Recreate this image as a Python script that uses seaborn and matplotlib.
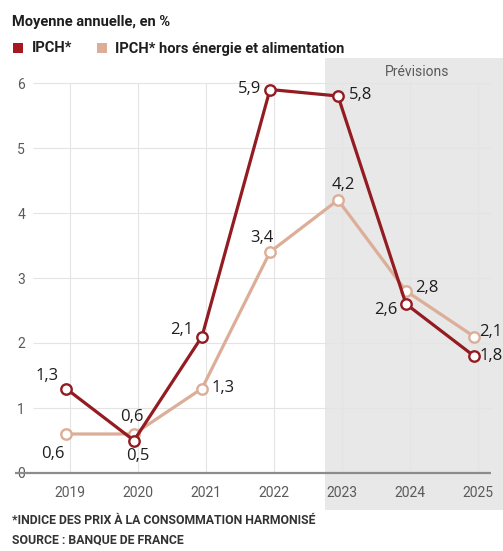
import matplotlib
matplotlib.use("Agg")
import matplotlib.pyplot as plt
from matplotlib.patches import Rectangle
import seaborn as sns
import pandas as pd

# Annual average inflation, in %
years = [2019, 2020, 2021, 2022, 2023, 2024, 2025]
ipch = [1.3, 0.5, 2.1, 5.9, 5.8, 2.6, 1.8]
ipch_core = [0.6, 0.6, 1.3, 3.4, 4.2, 2.8, 2.1]
series_names = ["IPCH*", "IPCH* hors énergie et alimentation"]
y_ticks = [0, 1, 2, 3, 4, 5, 6]

# label offsets (pixels) for each value label
ipch_offsets = [(-19, 13), (4, -15), (-20, 7), (-20, 1), (23, 1), (-20, -6), (17, 0)]
core_offsets = [(-13, -20), (-2, 17), (21, 0), (-8, 14), (5, 15), (21, 3), (17, 4)]

RED = "#931c22"
TAN = "#dcae98"
GREY_TXT = "#5a5a5a"

sns.set_theme(style="white")
plt.rcParams["font.family"] = ["Roboto", "DejaVu Sans"]

W, H = 503, 551
fig = plt.figure(figsize=(W / 100, H / 100), dpi=100)

# axes spans the full width; y=0 sits at pixel row 473, 65 px per unit
y0_px, top_px = 473, 58
ax = fig.add_axes([0, (H - y0_px) / H, 1, (y0_px - top_px) / H])
ax.patch.set_visible(False)

px_per_year = 68.0
x0_px = 66.0
xmin = years[0] - x0_px / px_per_year
xmax = years[0] + (W - x0_px) / px_per_year
ax.set_xlim(xmin, xmax)
ax.set_ylim(0, (y0_px - top_px) / 65.0)


def px2x(px):
    return years[0] + (px - x0_px) / px_per_year


# forecast shading (extends under the year labels)
fig.add_artist(Rectangle((325 / W, (H - 510) / H), (W - 325) / W, (510 - top_px) / H,
                         transform=fig.transFigure, facecolor="#e8e8e8",
                         edgecolor="none", zorder=-1))
fig.text(417 / W, 1 - 72 / H, "Prévisions", ha="center", va="center",
         fontsize=10, color=GREY_TXT)

# grid
ax.hlines(y_ticks[1:], px2x(33), px2x(491), color="#e4e4e4", lw=0.8, zorder=1)
ax.vlines([y + 0.06 for y in years], 0, 6, color="#e4e4e4", lw=0.8, zorder=1)
ax.hlines(0, px2x(15), px2x(491), color="#8c8c8c", lw=1.6, zorder=2, clip_on=False)

df = pd.DataFrame({
    "year": years * 2,
    "value": ipch + ipch_core,
    "series": [series_names[0]] * len(years) + [series_names[1]] * len(years),
})
sns.lineplot(data=df, x="year", y="value", hue="series",
             palette={series_names[0]: RED, series_names[1]: TAN},
             hue_order=[series_names[1], series_names[0]],
             lw=2.3, marker="o", markersize=7.5, markerfacecolor="white",
             markeredgewidth=1.7, legend=False, ax=ax, zorder=3)
# marker edges follow the line colour
for line in ax.get_lines():
    if len(line.get_xdata()) == len(years):
        line.set_markeredgecolor(line.get_color())
        line.set_clip_on(False)


def fmt(v):
    return f"{v:.1f}".replace(".", ",")


for vals, offs in ((ipch, ipch_offsets), (ipch_core, core_offsets)):
    for x, v, (dx, dy) in zip(years, vals, offs):
        ax.annotate(fmt(v), (x, v), xytext=(dx * 0.72, dy * 0.72),
                    textcoords="offset points", ha="center", va="center",
                    fontsize=12, color="#1e1e1e", family=["Open Sans", "DejaVu Sans"],
                    annotation_clip=False, zorder=5)

# ticks
ax.set_xticks([y + 0.06 for y in years])
ax.set_xticklabels([str(y) for y in years])
ax.set_yticks(y_ticks)
ax.set_yticklabels([str(t) for t in y_ticks])
ax.tick_params(axis="x", length=0, pad=9.5, labelsize=10, labelcolor=GREY_TXT)
ax.tick_params(axis="y", length=0, pad=-18, labelsize=10, labelcolor=GREY_TXT)
for lab in ax.get_yticklabels():
    lab.set_horizontalalignment("right")
ax.set_xlabel("")
ax.set_ylabel("")
sns.despine(ax=ax, left=True, bottom=True)

# header
fig.text(12 / W, 1 - 22 / H, "Moyenne annuelle, en %", ha="left", va="center",
         fontsize=10.5, fontweight="bold", color="#1e1e1e")
fig.add_artist(Rectangle((13 / W, 1 - 53 / H), 10 / W, 10 / H, transform=fig.transFigure,
                         facecolor="#a8191f", edgecolor="none"))
fig.text(32 / W, 1 - 48.5 / H, series_names[0], ha="left", va="center",
         fontsize=10.5, fontweight="bold", color="#1e1e1e")
fig.add_artist(Rectangle((97 / W, 1 - 53 / H), 10 / W, 10 / H, transform=fig.transFigure,
                         facecolor=TAN, edgecolor="none"))
fig.text(115 / W, 1 - 48.5 / H, series_names[1], ha="left", va="center",
         fontsize=10.5, fontweight="bold", color="#1e1e1e")

# footnotes
fig.text(12 / W, 1 - 521 / H, "*INDICE DES PRIX À LA CONSOMMATION HARMONISÉ",
         ha="left", va="center", fontsize=8.8, fontweight="bold", color="#333333")
fig.text(12 / W, 1 - 540 / H, "SOURCE : BANQUE DE FRANCE",
         ha="left", va="center", fontsize=8.8, fontweight="bold", color="#333333")

fig.savefig("out.png", dpi=100, facecolor="white")
